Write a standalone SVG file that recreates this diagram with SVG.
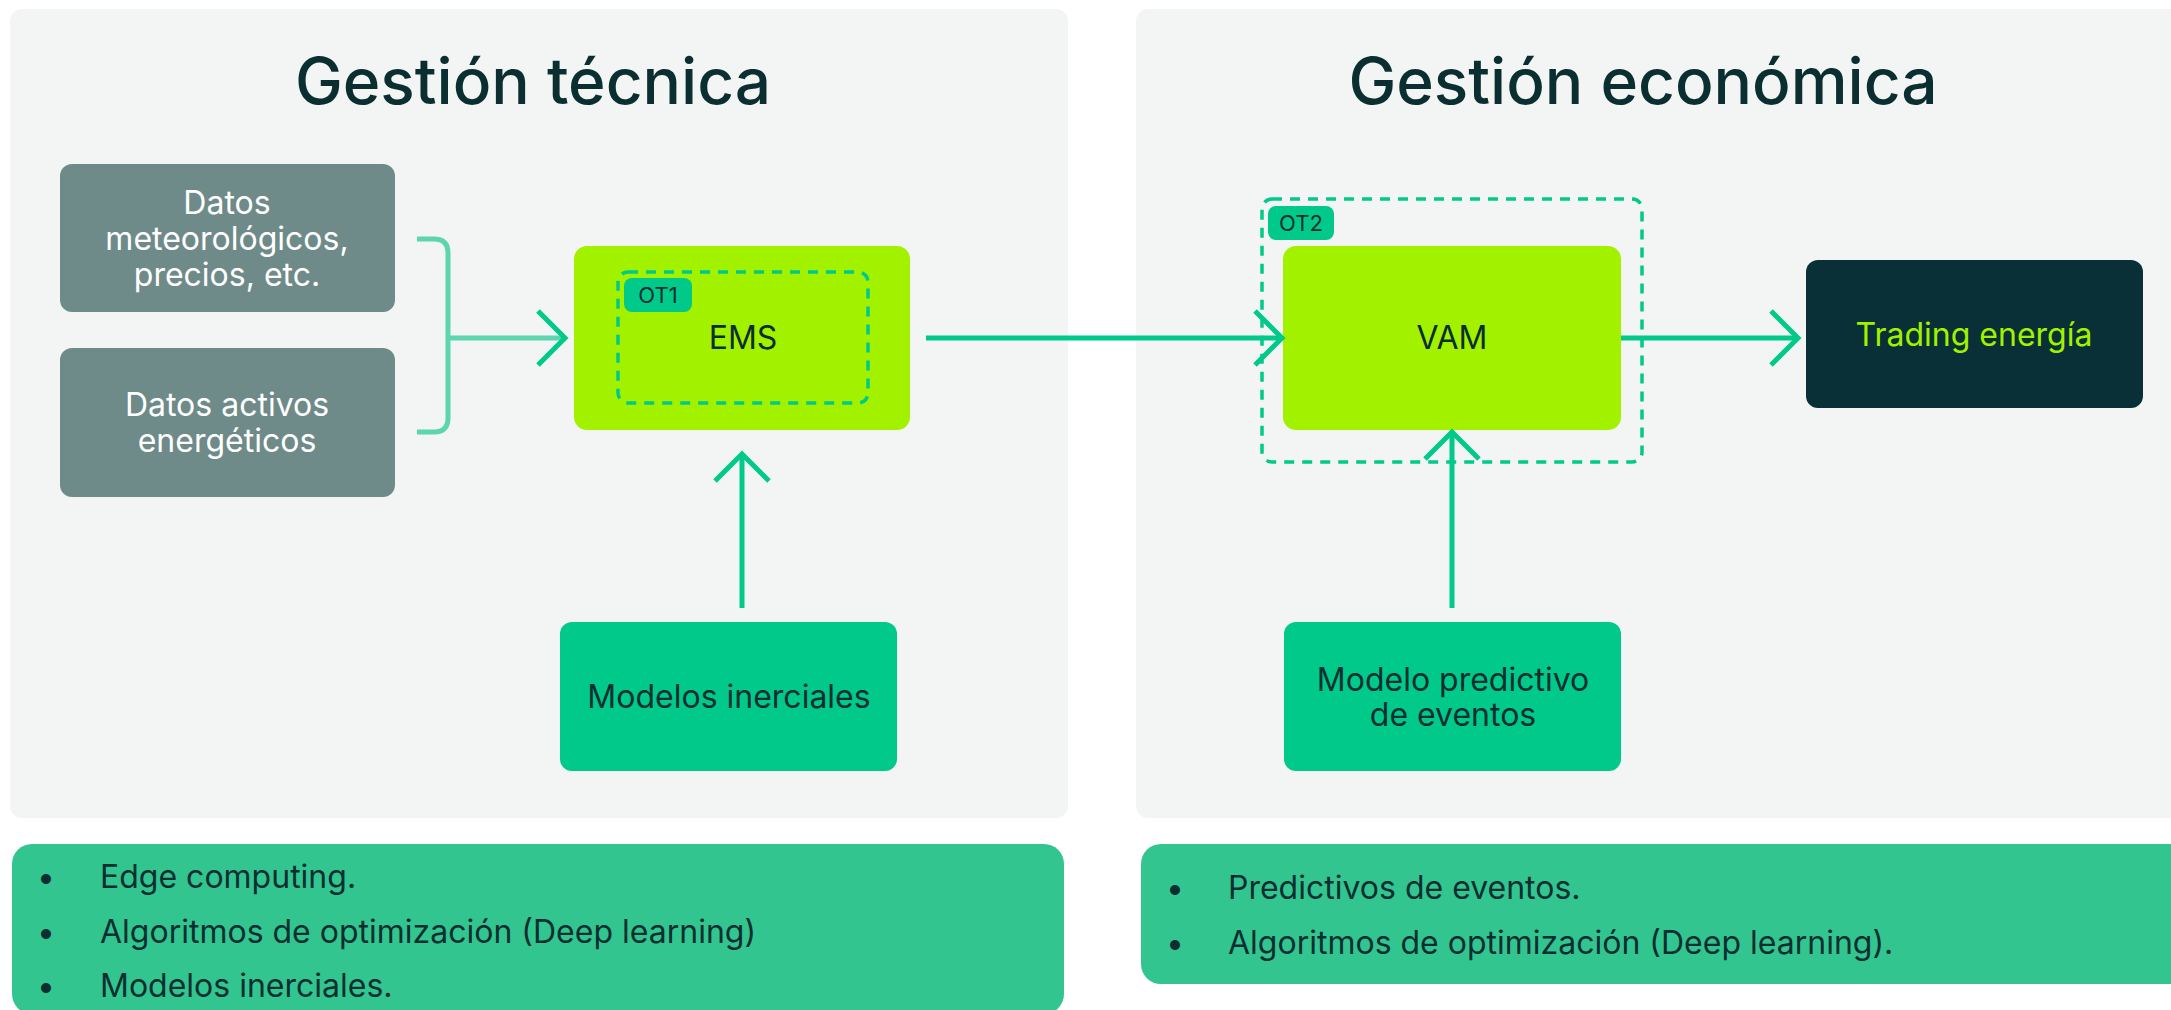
<svg xmlns="http://www.w3.org/2000/svg" width="2171" height="1010" viewBox="0 0 2171 1010">
<style>
text{font-family:Inter,"Noto Sans","Liberation Sans",sans-serif;fill:#0b2f30}
.title{font-size:64px;font-weight:500;text-anchor:middle}
.lbl{font-size:32px;text-anchor:middle}
.wlbl{font-size:32px;text-anchor:middle;fill:#ffffff}
.bul{font-size:32px}
.tag{font-size:22px;text-anchor:middle}
.line{stroke:#00c98a;stroke-width:5;fill:none}
.chev{stroke:#00c98a;stroke-width:5;fill:none;stroke-linecap:butt;stroke-linejoin:miter}
.dash{stroke:#00c98a;stroke-width:3.5;fill:none;stroke-dasharray:10 8}
</style>
<rect width="2171" height="1010" fill="#ffffff"/>
<g id="panel-tecnica">
<rect x="10" y="9" width="1058" height="809" rx="12" fill="#f3f5f4"/>
<text class="title" x="533" y="104">Gestión técnica</text>
</g>
<g id="panel-economica">
<rect x="1136" y="9" width="1050" height="809" rx="12" fill="#f3f5f4"/>
<text class="title" x="1643" y="104">Gestión económica</text>
</g>
<g id="datos-meteo">
<rect x="60" y="164" width="335" height="148" rx="12" fill="#6e8b89"/>
<text class="wlbl" x="227" y="214">Datos</text>
<text class="wlbl" x="227" y="250">meteorológicos,</text>
<text class="wlbl" x="227" y="286">precios, etc.</text>
</g>
<g id="datos-activos">
<rect x="60" y="348" width="335" height="149" rx="12" fill="#6e8b89"/>
<text class="wlbl" x="227" y="416">Datos activos</text>
<text class="wlbl" x="227" y="452">energéticos</text>
</g>
<g id="ems">
<rect x="574" y="246" width="336" height="184" rx="13" fill="#a2f200"/>
<rect class="dash" x="618" y="272" width="250" height="131" rx="10"/>
<rect x="624" y="278" width="68" height="34" rx="8" fill="#00c98a"/>
<text class="tag" x="658" y="303">OT1</text>
<text class="lbl" x="743" y="349">EMS</text>
</g>
<g id="modelos-inerciales">
<rect x="560" y="622" width="337" height="149" rx="12" fill="#00c98a"/>
<text class="lbl" x="729" y="708">Modelos inerciales</text>
</g>
<g id="vam">
<rect class="dash" x="1262" y="199" width="380" height="263" rx="10"/>
<rect x="1268" y="206" width="66" height="34" rx="8" fill="#00c98a"/>
<text class="tag" x="1301" y="231">OT2</text>
<rect x="1283" y="246" width="338" height="184" rx="13" fill="#a2f200"/>
<text class="lbl" x="1452" y="349">VAM</text>
</g>
<g id="modelo-predictivo">
<rect x="1284" y="622" width="337" height="149" rx="12" fill="#00c98a"/>
<text class="lbl" x="1453" y="691">Modelo predictivo</text>
<text class="lbl" x="1453" y="726">de eventos</text>
</g>
<g id="trading">
<rect x="1806" y="260" width="337" height="148" rx="12" fill="#083036"/>
<text class="lbl" x="1974" y="346" style="fill:#a2f200">Trading energía</text>
</g>
<g id="bullets-tecnica">
<rect x="12" y="844" width="1052" height="170" rx="20" fill="#33c58f"/>
<text class="bul" x="37" y="888">•</text>
<text class="bul" x="100" y="888">Edge computing.</text>
<text class="bul" x="37" y="943">•</text>
<text class="bul" x="100" y="943">Algoritmos de optimización (Deep learning)</text>
<text class="bul" x="37" y="997">•</text>
<text class="bul" x="100" y="997">Modelos inerciales.</text>
</g>
<g id="bullets-economica">
<rect x="1141" y="844" width="1050" height="140" rx="20" fill="#33c58f"/>
<text class="bul" x="1166" y="899">•</text>
<text class="bul" x="1228" y="899">Predictivos de eventos.</text>
<text class="bul" x="1166" y="954">•</text>
<text class="bul" x="1228" y="954">Algoritmos de optimización (Deep learning).</text>
</g>
<g id="connectors">
<path d="M417 239 H434 Q448 239 448 253 V418 Q448 432 434 432 H417" stroke="#5dd6b0" stroke-width="5" fill="none"/>
<path d="M448 338 H562" stroke="#5dd6b0" stroke-width="5" fill="none"/>
<path class="chev" d="M538 311 L565 338 L538 365"/>
<path class="line" d="M926 338 H1280"/>
<path class="chev" d="M1255 311 L1282 338 L1255 365"/>
<path class="line" d="M1621 338 H1796"/>
<path class="chev" d="M1771 311 L1798 338 L1771 365"/>
<path class="line" d="M742 608 V456"/>
<path class="chev" d="M715 481 L742 454 L769 481"/>
<path class="line" d="M1452 608 V434"/>
<path class="chev" d="M1425 459 L1452 432 L1479 459"/>
</g>
</svg>
